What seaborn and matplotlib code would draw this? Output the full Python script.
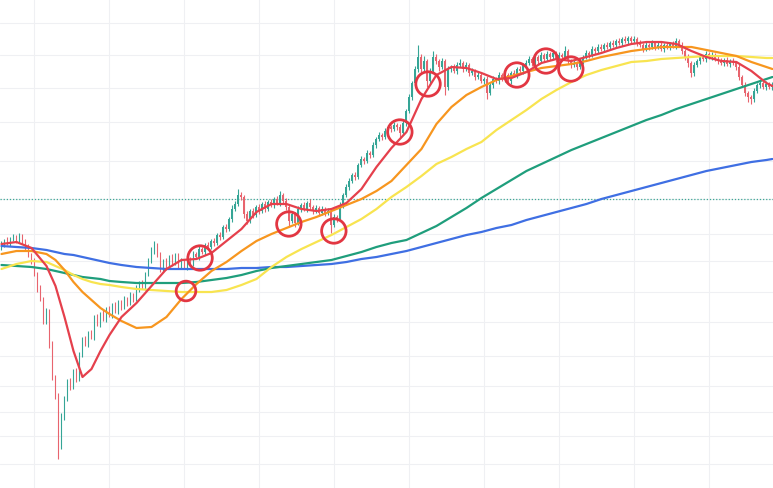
import numpy as np
import pandas as pd
import seaborn as sns
import matplotlib.pyplot as plt

# closes (first value is the open of the first candle); open = previous close
close = [241,
         244, 247, 245, 249, 251, 248, 252, 247, 241, 233,
         227, 214, 199, 189, 167, 177, 144, 111, 93, 44,
         71, 89, 107, 101, 117, 109, 134, 149, 144, 155,
         151, 171, 164, 174, 169, 179, 173, 183, 177, 186,
         181, 189, 185, 193, 189, 199, 205, 201, 214, 227,
         237, 243, 233, 219, 227, 221, 231, 225, 233, 223,
         227, 221, 229, 225, 234, 231, 239, 236, 243, 241,
         247, 245, 253, 251, 261, 259, 269, 279, 284, 293,
         291, 274, 267, 277, 273, 281, 277, 284, 279, 286,
         283, 289, 285, 293, 287, 281, 267, 274, 265, 279,
         283, 279, 285, 281, 277, 280, 275, 279, 275, 277,
         263, 271, 269, 283, 293, 301, 307, 313, 311, 323,
         329, 327, 335, 333, 343, 349, 353, 351, 357, 361,
         359, 363, 361, 355, 365, 377, 391, 405, 419, 431,
         419, 427, 407, 417, 431, 427, 421, 427, 401, 419,
         421, 417, 423, 425, 419, 423, 415, 417, 411, 413,
         407, 409, 395, 403, 409, 407, 413, 409, 413, 407,
         415, 413, 419, 417, 423, 425, 429, 425, 431, 427,
         433, 429, 434, 431, 435, 429, 433, 431, 437, 427,
         423, 425, 421, 427, 431, 435, 433, 439, 437, 441,
         439, 443, 441, 445, 443, 447, 445, 449, 447, 450,
         447, 449, 445, 443, 439, 443, 441, 445, 441, 443,
         439, 443, 441, 444, 442, 447, 443, 437, 431, 425,
         415, 423, 427, 431, 429, 434, 431, 433, 429, 427,
         425, 428, 424, 427, 425, 421, 411, 403, 395, 391,
         389, 397, 403, 405, 401, 404, 401, 403]

wick_up = [3, 2, 4, 2, 3, 2, 3, 2, 2, 3,
           2, 3, 2, 4, 2, 3, 2, 3, 2, 2,
           4, 3, 2, 3, 2, 3, 2, 2, 3, 2,
           3, 2, 3, 2, 4, 2, 3, 2, 3, 2,
           2, 3, 2, 3, 2, 4, 2, 3, 2, 3,
           4, 4, 2, 3, 2, 3, 2, 3, 2, 2,
           3, 2, 3, 2, 3, 2, 3, 2, 2, 3,
           2, 3, 2, 3, 2, 3, 2, 4, 3, 6,
           3, 2, 3, 2, 3, 2, 3, 2, 3, 2,
           3, 2, 3, 4, 2, 3, 2, 3, 2, 3,
           2, 3, 2, 4, 2, 3, 2, 3, 2, 3,
           2, 3, 2, 3, 2, 3, 3, 2, 3, 2,
           3, 2, 3, 2, 3, 2, 3, 2, 3, 2,
           2, 3, 2, 3, 3, 2, 3, 2, 3, 12,
           3, 5, 2, 3, 6, 3, 2, 3, 2, 3,
           2, 3, 3, 4, 2, 3, 2, 3, 2, 3,
           3, 2, 3, 2, 3, 2, 3, 2, 3, 2,
           2, 3, 2, 3, 2, 3, 3, 2, 3, 2,
           3, 2, 3, 2, 3, 2, 3, 2, 5, 2,
           2, 3, 2, 3, 2, 3, 2, 3, 2, 3,
           3, 2, 3, 2, 3, 2, 3, 2, 3, 2,
           2, 3, 2, 3, 2, 3, 2, 3, 2, 3,
           3, 2, 3, 2, 3, 3, 2, 3, 2, 3,
           2, 3, 2, 3, 2, 3, 2, 3, 2, 3,
           3, 2, 3, 2, 3, 2, 3, 2, 3, 2,
           2, 3, 2, 3, 2, 3, 2, 3]

wick_dn = [3, 3, 2, 3, 2, 3, 2, 3, 3, 2,
           3, 2, 3, 2, 3, 3, 4, 3, 4, 15,
           5, 3, 2, 3, 2, 3, 2, 3, 2, 3,
           2, 3, 2, 3, 2, 3, 2, 3, 2, 3,
           3, 2, 3, 2, 3, 2, 3, 2, 3, 2,
           2, 3, 2, 3, 2, 3, 2, 3, 2, 3,
           3, 2, 3, 2, 3, 2, 3, 2, 3, 2,
           2, 3, 2, 3, 2, 3, 2, 3, 2, 2,
           3, 4, 3, 2, 3, 2, 3, 2, 3, 2,
           2, 3, 2, 3, 2, 3, 6, 2, 4, 2,
           3, 2, 3, 2, 3, 2, 3, 2, 3, 2,
           8, 2, 3, 2, 3, 2, 3, 2, 3, 2,
           2, 3, 2, 3, 2, 3, 2, 3, 2, 3,
           3, 2, 3, 4, 2, 3, 2, 3, 2, 3,
           3, 2, 6, 3, 2, 3, 4, 2, 8, 3,
           3, 2, 3, 2, 3, 2, 3, 2, 3, 2,
           2, 3, 6, 2, 3, 2, 3, 2, 3, 2,
           3, 2, 3, 2, 3, 2, 2, 3, 2, 3,
           2, 3, 2, 3, 2, 3, 2, 3, 2, 3,
           3, 2, 3, 2, 3, 2, 3, 2, 3, 2,
           2, 3, 2, 3, 2, 3, 2, 3, 2, 3,
           3, 2, 3, 2, 3, 2, 3, 2, 3, 2,
           2, 3, 2, 3, 2, 3, 2, 3, 3, 4,
           4, 3, 2, 3, 2, 3, 2, 3, 2, 3,
           2, 3, 2, 3, 2, 3, 3, 2, 3, 5,
           5, 3, 2, 3, 2, 3, 2, 3]

# moving averages sampled at these candle indices
ma_idx = [0, 5, 10, 15, 18, 21, 24, 27, 30, 33, 36] + list(range(40, 256, 5)) + [257]

ma_red = [244, 246, 240, 222, 202, 171, 137, 111, 119, 137, 153, 171, 185, 202, 219, 228,
          229, 235, 247, 259, 276, 284, 284, 279, 277, 279, 285, 299, 321, 340, 356, 389,
          413, 421, 420, 415, 409, 410, 416, 425, 429, 427, 431, 435, 440, 444, 446, 446,
          444, 437, 431, 427, 426, 417, 405, 402]
ma_orange = [234, 237, 237, 234, 228, 218, 206, 196, 188, 180, 174, 167, 160, 161, 171, 189,
             204, 217, 226, 237, 247, 254, 260, 266, 271, 277, 283, 289, 297, 307, 323, 339,
             364, 381, 393, 401, 408, 412, 416, 420, 422, 424, 427, 431, 434, 437, 439, 441,
             441, 441, 438, 435, 432, 426, 421, 419]
ma_yellow = [219, 224, 227, 226, 222, 218, 213, 209, 206, 204, 203, 201, 199, 198, 197, 196,
             196, 196, 198, 203, 209, 221, 231, 239, 246, 253, 261, 269, 279, 291, 301, 312,
             324, 331, 339, 346, 358, 368, 378, 389, 398, 406, 413, 418, 422, 426, 427, 429,
             430, 431, 432, 432, 432, 431, 430, 430]
ma_green = [223, 222, 221, 219, 217, 215, 213, 211, 210, 209, 207, 206, 205, 205, 205, 205,
            206, 208, 210, 213, 217, 220, 222, 224, 226, 228, 232, 236, 241, 245, 248, 255,
            262, 271, 280, 290, 299, 308, 317, 324, 331, 338, 344, 350, 356, 362, 368, 373,
            379, 384, 389, 394, 399, 404, 409, 411]
ma_blue = [242, 241, 240, 238, 236, 234, 233, 231, 229, 227, 225, 223, 221, 220, 219, 219,
           219, 219, 219, 220, 220, 221, 221, 222, 223, 224, 226, 229, 231, 234, 237, 241,
           245, 249, 253, 256, 260, 263, 268, 272, 276, 280, 284, 289, 293, 297, 301, 305,
           309, 313, 317, 320, 323, 326, 328, 329]

# highlighted touches
circle_x = [61.5, 66.2, 95.8, 110.8, 132.8, 142.2, 171.8, 181.5, 189.8]
circle_y = [197, 230, 264, 257, 356, 404, 413, 427, 419]

level = 289
x_grid = [11, 36, 61, 86, 111, 136, 161, 186, 211, 236]
y_grid = [24, 52, 76, 102, 132, 166, 196, 227, 254, 289, 327, 366, 400, 433, 465]

sns.set_style("whitegrid", {"grid.color": "#eff0f3", "axes.edgecolor": "white"})

fig = plt.figure(figsize=(7.73, 4.89), dpi=100)
ax = fig.add_axes([0, 0, 1, 1])

c_all = np.array(close, dtype=float)
o, c = c_all[:-1], c_all[1:]
idx = np.arange(len(c))
top = np.maximum(o, c)
bot = np.minimum(o, c)
hi = top + np.array(wick_up)
lo = bot - np.array(wick_dn)
cols = np.where(c >= o, "#35a596", "#e8646e")

ax.axhline(level, color="#3fa896", linestyle=(0, (1, 1.5)), linewidth=0.9, zorder=1)
ax.vlines(idx, lo, hi, colors=cols, linewidth=0.8, zorder=2)
ax.bar(idx, np.maximum(top - bot, 1.5), bottom=bot, width=0.65, color=cols,
       linewidth=0, zorder=2)

ma = pd.DataFrame({"idx": ma_idx, "blue": ma_blue, "green": ma_green,
                   "yellow": ma_yellow, "orange": ma_orange, "red": ma_red})
line_colors = {"blue": "#3f6fe3", "green": "#1f9e7c", "yellow": "#f8e450",
               "orange": "#f7961f", "red": "#e5404c"}
for name in ["blue", "green", "yellow", "orange", "red"]:
    sns.lineplot(data=ma, x="idx", y=name, color=line_colors[name], linewidth=1.6,
                 ax=ax, zorder=3, sort=False, solid_joinstyle="round",
                 solid_capstyle="round")

sizes = [200] + [310] * (len(circle_x) - 1)
sns.scatterplot(x=circle_x, y=circle_y, s=sizes, facecolors="none",
                edgecolor="#e23642", linewidth=2.0, ax=ax, zorder=4, legend=False)

ax.set_xlim(-0.5, 257.2)
ax.set_ylim(0, 489)
ax.set_xticks(x_grid)
ax.set_yticks(y_grid)
ax.tick_params(length=0, labelbottom=False, labelleft=False)
ax.grid(True, linewidth=0.8)
ax.set_xlabel("")
ax.set_ylabel("")
for s in ax.spines.values():
    s.set_visible(False)

fig.savefig("out.png", dpi=100)
